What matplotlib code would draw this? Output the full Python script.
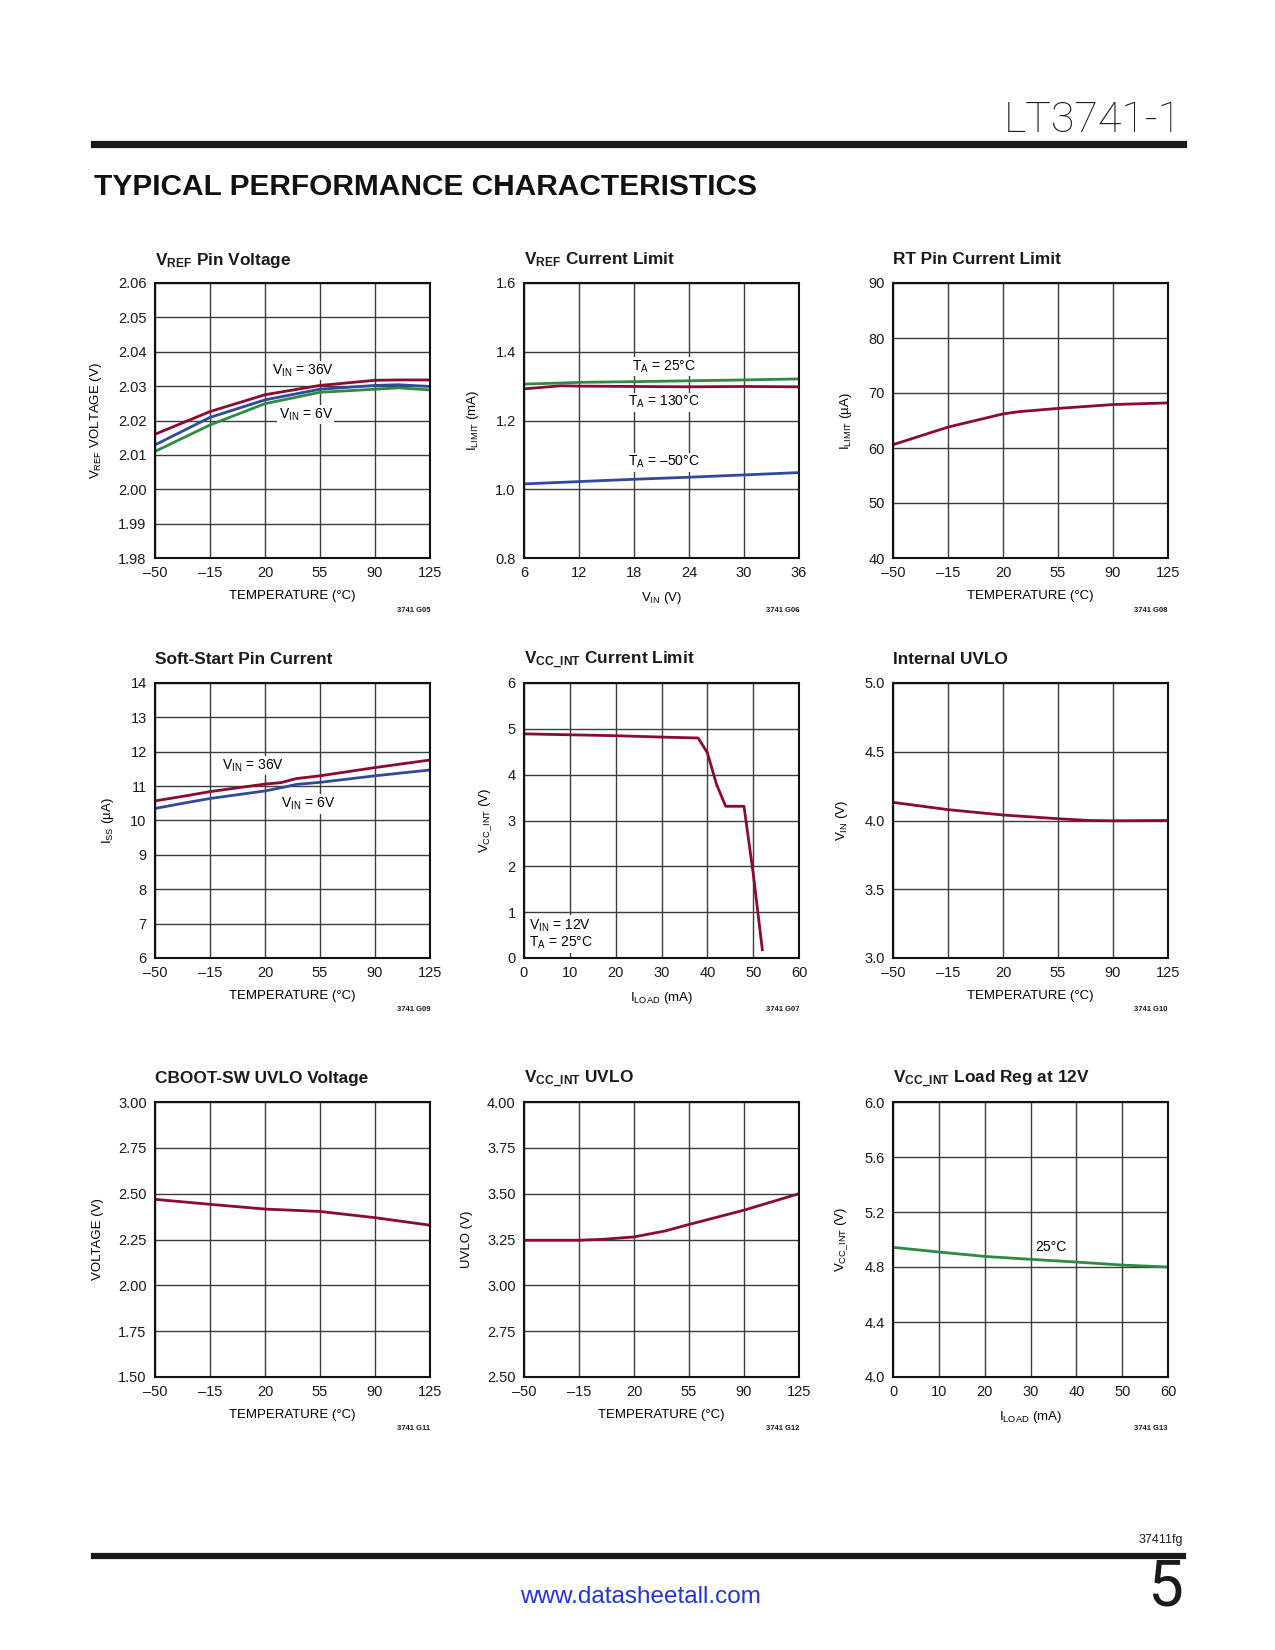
#!/usr/bin/env python3
"""
LT3741-1 典型性能曲线页面复刻
"""

import matplotlib
matplotlib.use('Agg')
import matplotlib.pyplot as plt
from matplotlib import font_manager

W, H = 1275, 1650

# 选字体: 有 Narrow 就用 Narrow
names = {f.name for f in font_manager.fontManager.ttflist}
NARROW = 'Liberation Sans Narrow' if 'Liberation Sans Narrow' in names else 'Liberation Sans'
THIN = 'Roboto' if 'Roboto' in names else NARROW
plt.rcParams['font.family'] = [NARROW, 'DejaVu Sans']
plt.rcParams['mathtext.fontset'] = 'custom'
plt.rcParams['mathtext.rm'] = NARROW
plt.rcParams['mathtext.it'] = NARROW
plt.rcParams['mathtext.bf'] = NARROW + ':bold'
plt.rcParams['axes.unicode_minus'] = False

RED = '#8c0a30'
BLUE = '#2f4a9c'
GREEN = '#2e8a40'
GRID = '#3c3c3c'

TEMP_TICKS = [-50, -15, 20, 55, 90, 125]

# ---- 数据 ----
# VREF Pin Voltage
vref_t = [-50, -15, 20, 55, 90, 105, 125]
vref_36v = [2.0160, 2.0226, 2.0275, 2.0302, 2.0317, 2.0318, 2.0318]
vref_mid = [2.0129, 2.0209, 2.0260, 2.0291, 2.0302, 2.0304, 2.0299]
vref_6v = [2.0110, 2.0187, 2.0249, 2.0282, 2.0291, 2.0295, 2.0289]

# VREF Current Limit
ilim_vin = [6, 10, 12, 18, 24, 30, 36]
ilim_25c = [1.306, 1.309, 1.311, 1.313, 1.3155, 1.318, 1.321]
ilim_130c = [1.292, 1.301, 1.300, 1.299, 1.298, 1.299, 1.298]
ilim_m50c = [1.0155, 1.020, 1.0223, 1.029, 1.035, 1.0417, 1.0485]

# RT Pin Current Limit
rt_t = [-50, -15, 20, 30, 55, 90, 125]
rt_ilim = [60.6, 63.8, 66.2, 66.6, 67.2, 67.9, 68.2]

# Soft-Start Pin Current
ss_t = [-50, -30, -15, 20, 30, 40, 55, 90, 125]
ss_36v = [10.57, 10.72, 10.84, 11.06, 11.10, 11.22, 11.30, 11.54, 11.76]
ss_6v = [10.35, 10.52, 10.64, 10.86, 10.95, 11.05, 11.11, 11.30, 11.47]

# VCC_INT Current Limit
vcc_iload = [0, 10, 20, 30, 38, 40, 42, 44, 48, 50, 52]
vcc_v = [4.89, 4.87, 4.85, 4.82, 4.80, 4.48, 3.79, 3.31, 3.31, 1.85, 0.18]

# Internal UVLO
uvlo_t = [-50, -15, 20, 55, 75, 90, 125]
uvlo_vin = [4.132, 4.079, 4.040, 4.013, 4.000, 3.998, 4.000]

# CBOOT-SW UVLO Voltage
cb_t = [-50, -15, 20, 55, 90, 125]
cb_v = [2.469, 2.442, 2.416, 2.403, 2.369, 2.328]

# VCC_INT UVLO
vu_t = [-50, -15, 0, 20, 40, 55, 90, 125]
vu_v = [3.246, 3.246, 3.251, 3.264, 3.297, 3.332, 3.410, 3.500]

# VCC_INT Load Reg at 12V
lr_iload = [0, 10, 20, 30, 40, 50, 60]
lr_v = [4.943, 4.909, 4.877, 4.856, 4.836, 4.814, 4.800]


def fx(x):
    return x / W


def fy(y):
    return 1 - y / H


fig = plt.figure(figsize=(W / 100, H / 100), dpi=100)

COLS = [155, 524, 893]
ROWS = [283, 683, 1102]
SIZE = 275


def make_ax(col, row, title, xticks, xlabels, yticks, ylabels, xlabel, ylabel, code):
    l, t = COLS[col], ROWS[row]
    ax = fig.add_axes([fx(l), fy(t + SIZE), SIZE / W, SIZE / H])
    ax.set_xlim(xticks[0], xticks[-1])
    ax.set_ylim(yticks[0], yticks[-1])
    ax.set_xticks(xticks)
    ax.set_xticklabels(xlabels)
    ax.set_yticks(yticks)
    ax.set_yticklabels(ylabels)
    ax.tick_params(length=0, labelsize=10.5, pad=6, colors='#1a1a1a')
    ax.grid(True, color=GRID, lw=1.0)
    ax.set_axisbelow(True)
    for s in ax.spines.values():
        s.set_linewidth(1.5)
        s.set_color('#111111')
    ax.set_xlabel(xlabel, fontsize=9.5, labelpad=7)
    ax.set_ylabel(ylabel, fontsize=9.5, labelpad=10)
    fig.text(fx(l), fy(t - 23), title, fontsize=12.4, fontweight='bold',
             ha='left', va='center', color='#1a1a1a')
    fig.text(fx(l + SIZE), fy(t + SIZE + 52), code, fontsize=5.5,
             fontweight='bold', ha='right', va='center', color='#1a1a1a')
    return ax


def temp_labels():
    return [str(t).replace('-', '\u2013') for t in TEMP_TICKS]


LW = 2.0
BOX = dict(facecolor='white', edgecolor='none', pad=1.0)
LFS = 10

# 1: VREF Pin Voltage
yt = [1.98 + 0.01 * i for i in range(9)]
ax = make_ax(0, 0, r'$\mathbf{V_{REF}}$ Pin Voltage', TEMP_TICKS, temp_labels(),
             yt, ['%.2f' % v for v in yt], 'TEMPERATURE (°C)', r'$\mathrm{V_{REF}}$ VOLTAGE (V)', '3741 G05')
ax.plot(vref_t, vref_6v, color=GREEN, lw=LW)
ax.plot(vref_t, vref_mid, color=BLUE, lw=LW)
ax.plot(vref_t, vref_36v, color=RED, lw=LW)
ax.text(44, 2.0346, r'$\mathrm{V_{IN}}$ = 36V', fontsize=LFS, ha='center', va='center', bbox=BOX)
ax.text(46, 2.0218, r'$\mathrm{V_{IN}}$ = 6V', fontsize=LFS, ha='center', va='center', bbox=BOX)

# 2: VREF Current Limit
yt = [0.8, 1.0, 1.2, 1.4, 1.6]
ax = make_ax(1, 0, r'$\mathbf{V_{REF}}$ Current Limit', [6, 12, 18, 24, 30, 36],
             ['6', '12', '18', '24', '30', '36'], yt, ['%.1f' % v for v in yt],
             r'$\mathrm{V_{IN}}$ (V)', r'$\mathrm{I_{LIMIT}}$ (mA)', '3741 G06')
ax.plot(ilim_vin, ilim_m50c, color=BLUE, lw=LW)
ax.plot(ilim_vin, ilim_130c, color=RED, lw=LW)
ax.plot(ilim_vin, ilim_25c, color=GREEN, lw=LW)
ax.text(21.3, 1.357, r'$\mathrm{T_{A}}$ = 25°C', fontsize=LFS, ha='center', va='center', bbox=BOX)
ax.text(21.3, 1.253, r'$\mathrm{T_{A}}$ = 130°C', fontsize=LFS, ha='center', va='center', bbox=BOX)
ax.text(21.3, 1.079, r'$\mathrm{T_{A}}$ = ' + '\u201350°C', fontsize=LFS,
        ha='center', va='center', bbox=BOX)

# 3: RT Pin Current Limit
yt = [40, 50, 60, 70, 80, 90]
ax = make_ax(2, 0, 'RT Pin Current Limit', TEMP_TICKS, temp_labels(), yt,
             [str(v) for v in yt], 'TEMPERATURE (°C)', r'$\mathrm{I_{LIMIT}}$ (µA)', '3741 G08')
ax.plot(rt_t, rt_ilim, color=RED, lw=LW)

# 4: Soft-Start Pin Current
yt = list(range(6, 15))
ax = make_ax(0, 1, 'Soft-Start Pin Current', TEMP_TICKS, temp_labels(), yt,
             [str(v) for v in yt], 'TEMPERATURE (°C)', r'$\mathrm{I_{SS}}$ (µA)', '3741 G09')
ax.plot(ss_t, ss_6v, color=BLUE, lw=LW)
ax.plot(ss_t, ss_36v, color=RED, lw=LW)
ax.text(12.6, 11.59, r'$\mathrm{V_{IN}}$ = 36V', fontsize=LFS, ha='center', va='center', bbox=BOX)
ax.text(47.2, 10.48, r'$\mathrm{V_{IN}}$ = 6V', fontsize=LFS, ha='center', va='center', bbox=BOX)

# 5: VCC_INT Current Limit
yt = list(range(0, 7))
xt = list(range(0, 61, 10))
ax = make_ax(1, 1, r'$\mathbf{V_{CC\_INT}}$ Current Limit', xt, [str(v) for v in xt], yt,
             [str(v) for v in yt], r'$\mathrm{I_{LOAD}}$ (mA)', r'$\mathrm{V_{CC\_INT}}$ (V)', '3741 G07')
ax.plot(vcc_iload, vcc_v, color=RED, lw=LW)
ax.text(1.0, 0.52, r'$\mathrm{V_{IN}}$ = 12V' + '\n' + r'$\mathrm{T_{A}}$ = 25°C', fontsize=LFS,
        ha='left', va='center', linespacing=1.1,
        bbox=dict(facecolor='white', edgecolor='none', pad=1.5))

# 6: Internal UVLO
yt = [3.0, 3.5, 4.0, 4.5, 5.0]
ax = make_ax(2, 1, 'Internal UVLO', TEMP_TICKS, temp_labels(), yt,
             ['%.1f' % v for v in yt], 'TEMPERATURE (°C)', r'$\mathrm{V_{IN}}$ (V)', '3741 G10')
ax.plot(uvlo_t, uvlo_vin, color=RED, lw=LW)

# 7: CBOOT-SW UVLO Voltage
yt = [1.5 + 0.25 * i for i in range(7)]
ax = make_ax(0, 2, 'CBOOT-SW UVLO Voltage', TEMP_TICKS, temp_labels(), yt,
             ['%.2f' % v for v in yt], 'TEMPERATURE (°C)', 'VOLTAGE (V)', '3741 G11')
ax.plot(cb_t, cb_v, color=RED, lw=LW)

# 8: VCC_INT UVLO
yt = [2.5 + 0.25 * i for i in range(7)]
ax = make_ax(1, 2, r'$\mathbf{V_{CC\_INT}}$ UVLO', TEMP_TICKS, temp_labels(), yt,
             ['%.2f' % v for v in yt], 'TEMPERATURE (°C)', 'UVLO (V)', '3741 G12')
ax.plot(vu_t, vu_v, color=RED, lw=LW)

# 9: VCC_INT Load Reg at 12V
yt = [4.0, 4.4, 4.8, 5.2, 5.6, 6.0]
ax = make_ax(2, 2, r'$\mathbf{V_{CC\_INT}}$ Load Reg at 12V', xt, [str(v) for v in xt], yt,
             ['%.1f' % v for v in yt], r'$\mathrm{I_{LOAD}}$ (mA)', r'$\mathrm{V_{CC\_INT}}$ (V)', '3741 G13')
ax.plot(lr_iload, lr_v, color=GREEN, lw=LW)
ax.text(34.4, 4.943, '25°C', fontsize=LFS, ha='center', va='center')

# ---- 页眉 / 页脚 ----
fig.text(fx(1182), fy(120), 'LT3741-1', fontsize=31, fontweight='light', family=THIN,
         ha='right', va='center', color='#1a1a1a')
fig.add_artist(plt.Line2D([fx(94), fx(1183)], [fy(143.5), fy(143.5)], color='#1a1a1a', lw=5.2))
fig.text(fx(94), fy(187), 'TYPICAL PERFORMANCE CHARACTERISTICS', fontsize=21.5,
         fontweight='heavy', ha='left', va='center', color='#111111')

fig.text(fx(1183), fy(1540), '37411fg', fontsize=9, ha='right', va='center', color='#1a1a1a')
fig.add_artist(plt.Line2D([fx(94), fx(1183)], [fy(1555.5), fy(1555.5)], color='#1a1a1a', lw=4.5))
fig.text(fx(640), fy(1597), 'www.datasheetall.com', fontsize=17.5, ha='center', va='center', color='#2233dd')
fig.text(fx(1183), fy(1588), '5', fontsize=46, family=THIN,
         ha='right', va='center', color='#1a1a1a')

plt.savefig('out.png', dpi=100)
plt.close()
